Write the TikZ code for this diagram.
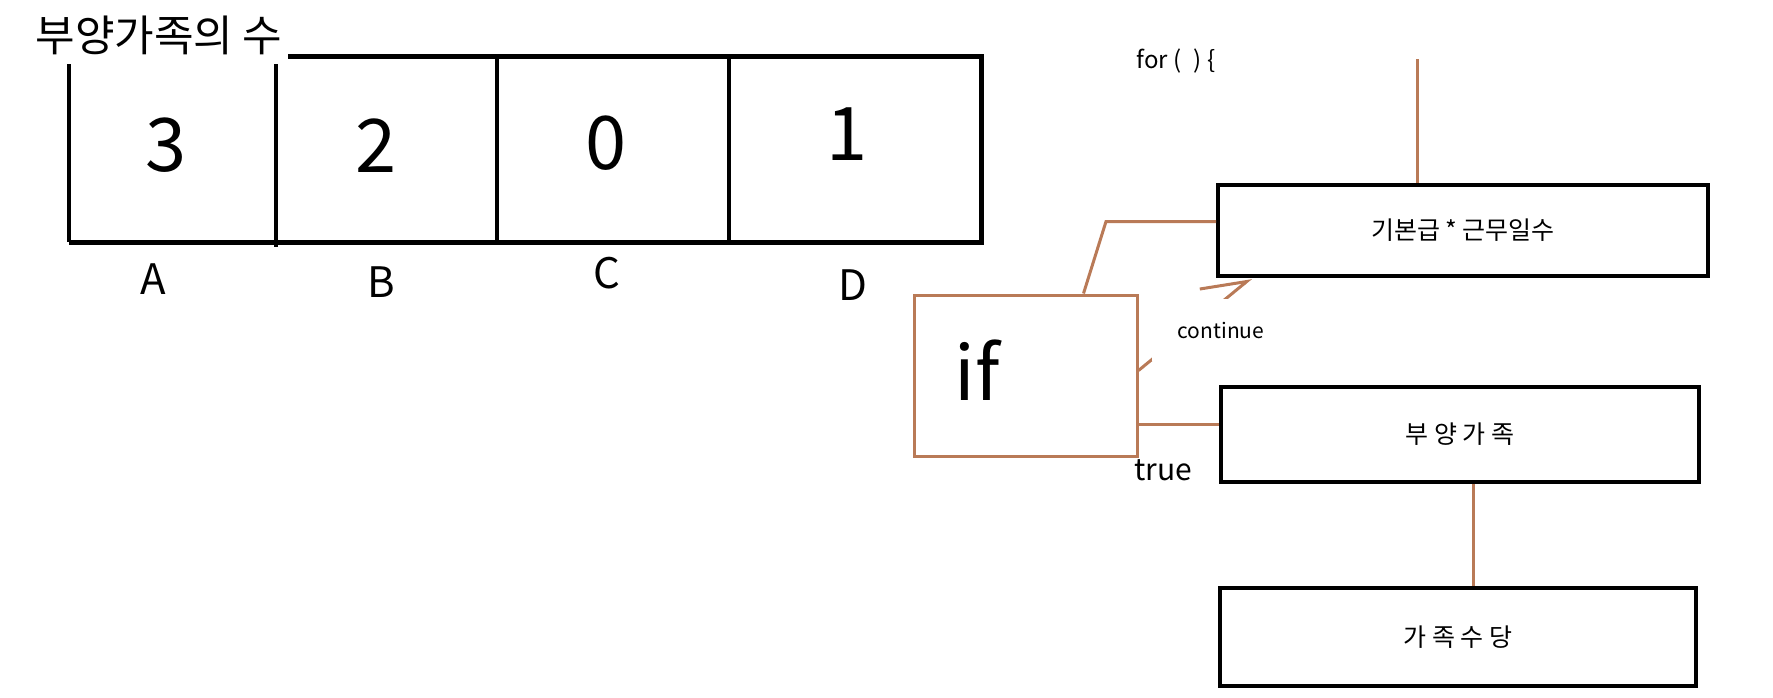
\documentclass[tikz,border=0pt]{standalone}
\usepackage{fontspec}
\setmainfont{Noto Sans CJK KR}
\usetikzlibrary{arrows.meta}
\definecolor{paintbrown}{RGB}{185,122,87}
\newcommand{\fsz}[1]{\fontsize{#1}{#1}\selectfont}

\begin{document}
\begin{tikzpicture}[
    x=1pt, y=-1pt,
    tableline/.style={line width=5pt, line join=miter},
    divider/.style={line width=4.5pt},
    box/.style={draw, rectangle, line width=4pt, inner sep=0pt, font=\fsz{25}},
    ifbox/.style={draw=paintbrown, rectangle, line width=3pt, minimum width=223pt, minimum height=161pt},
    link/.style={draw=paintbrown, line width=3pt},
    cell/.style={inner sep=0pt, font=\fsz{74}},
    colname/.style={inner sep=0pt, font=\fsz{42}},
    tag/.style={inner sep=0pt, font=\fsz{21}}
]
  \useasboundingbox (0,0) rectangle (1773,697);

  % Table of dependants
  \draw[tableline] (288,56) -- (981,56) -- (981,242) -- (69,242);
  \draw[divider] (69,64) -- (69,242);
  \draw[divider] (276,64) -- (276,247);
  \draw[divider] (497,56) -- (497,242);
  \draw[divider] (729,56) -- (729,242);

  \node[inner sep=0pt, font=\fsz{43}] (title) at (159,35) {부양가족의 수};

  \node[cell] (n0) at (166,145) {3};
  \node[cell] (n1) at (376,146) {2};
  \node[cell] (n2) at (606,143) {0};
  \node[cell] (n3) at (847,134) {1};

  \node[colname] (c0) at (153,279) {A};
  \node[colname] (c1) at (381,282) {B};
  \node[colname] (c2) at (607,273) {C};
  \node[colname] (c3) at (853,285) {D};

  % Loop
  \node[tag, font=\fsz{24}] (loop) at (1176,61) {for (\hspace{12pt}) \{};
  \coordinate (looptop) at (1417,59);

  \node[box, minimum width=490pt, minimum height=91pt] (pay) at (1463,230.5) {기본급 * 근무일수};
  \node[box, minimum width=478pt, minimum height=95pt] (dep) at (1460,434.5) {부 양 가 족};
  \node[box, minimum width=476pt, minimum height=98pt] (fam) at (1458,637) {가 족 수 당};

  \node[ifbox] (cond) at (1025.5,375.5) {};
  \node[inner sep=0pt, font=\fsz{75}] (iftext) at (977,370) {if};
  \node[inner sep=0pt, font=\fsz{30}] (true) at (1163,470) {true};

  \draw[link] (looptop) -- (looptop |- pay.north);
  \draw[link] ([yshift=9pt]pay.west) -- ++(-110,0) -- ([xshift=58pt]cond.north);
  \draw[link, -{Straight Barb[left, length=41pt, width=48pt]}] ([yshift=5pt]cond.east) -- ([xshift=35pt]pay.south west);
  \node[tag, fill=white, minimum width=138pt, minimum height=62pt] (cont) at (1221,330) {continue};
  \draw[link] ([yshift=10pt]dep.west) -- ([yshift=10pt]dep.west -| cond.east);
  \draw[link] ([xshift=13pt]dep.south) -- ([xshift=13pt]dep.south |- fam.north);
\end{tikzpicture}
\end{document}
